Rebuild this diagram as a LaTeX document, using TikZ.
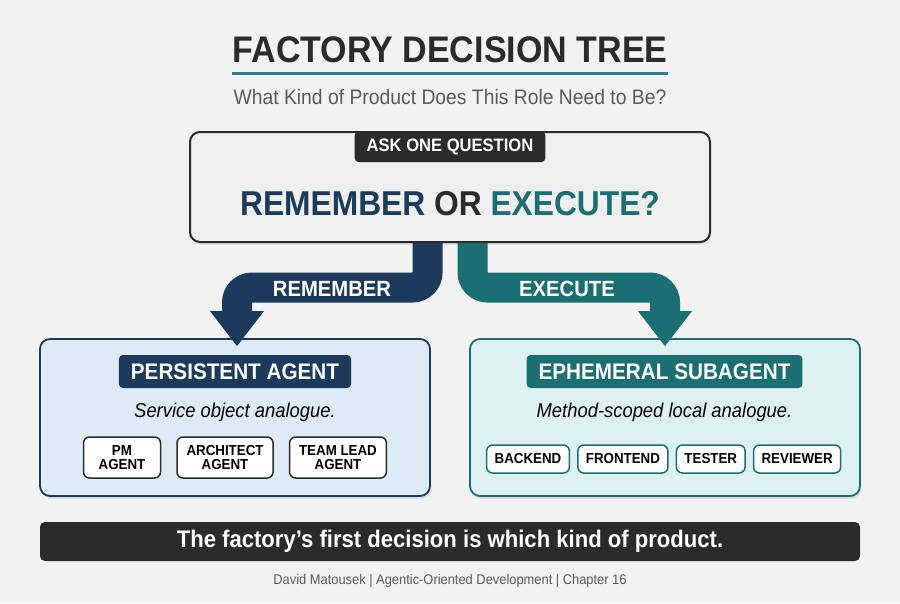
\documentclass[tikz,border=0pt]{standalone}
\usepackage{fontspec}
\setmainfont[FakeStretch=0.92]{Liberation Sans}
\usepackage{tikz}
\usetikzlibrary{positioning, arrows.meta, shadows}
\definecolor{pagebg}{HTML}{F2F2F2}
\definecolor{charcoal}{HTML}{2B2B2B}
\definecolor{mutedtext}{HTML}{5A5A5A}
\definecolor{remnavy}{HTML}{1B3A5C}
\definecolor{exeteal}{HTML}{1B6E72}
\definecolor{rulteal}{HTML}{2A8088}
\definecolor{qfill}{HTML}{EFEFEF}
\definecolor{remfill}{HTML}{DDEBF7}
\definecolor{exefill}{HTML}{DDF2F0}

\newcommand{\fsz}[1]{\fontsize{#1}{#1}\selectfont}

\begin{document}
\begin{tikzpicture}[
  x=1pt, y=-1pt,
  every node/.style={text=charcoal},
  softshadow/.style={
    drop shadow={shadow xshift=1pt, shadow yshift=-2.5pt, opacity=0.22},
  },
  questionbox/.style={
    draw=charcoal,
    line width=2pt,
    rounded corners=10pt,
    fill=qfill,
    minimum width=520pt,
    minimum height=110pt,
    softshadow,
  },
  tagbox/.style={
    rounded corners=4pt,
    text=white,
    font=\fsz{#1}\bfseries,
    inner xsep=12pt,
    inner ysep=0pt,
    minimum height=31pt,
  },
  kindbox/.style={
    line width=1.8pt,
    rounded corners=10pt,
    minimum width=390pt,
    minimum height=157pt,
    softshadow,
  },
  rolebox/.style={
    draw=#1,
    line width=1.5pt,
    fill=white,
    rounded corners=6pt,
    align=center,
    font=\fsz{14.5}\bfseries,
    text=black,
    inner xsep=8pt,
    inner ysep=0pt,
  },
  branch/.style={
    draw=#1,
    line width=30pt,
    rounded corners=15pt,
    -{Triangle[width=54pt, length=35pt, line width=0pt]},
  },
  branchlabel/.style={
    font=\fsz{22}\bfseries,
    text=white,
  },
]
  % page
  \fill[pagebg] (0,0) rectangle (900,603);

  % heading
  \node[font=\fsz{37}\bfseries, inner sep=0pt, anchor=base] (title) at (450,62) {FACTORY DECISION TREE};
  \draw[rulteal, line width=3pt] ([yshift=-11pt]title.base west) -- ([yshift=-11pt]title.base east);
  \node[font=\fsz{21}, text=mutedtext, anchor=base] (subtitle) at (450,104) {What Kind of Product Does This Role Need to Be?};

  % the question
  \node[questionbox] (question) at (450,187) {};
  \node[tagbox=18, fill=charcoal, anchor=north] (ask) at (question.north) {ASK ONE QUESTION};
  \node[font=\fsz{34.5}\bfseries, anchor=base] (remexe) at (450,215)
    {\textcolor{remnavy}{REMEMBER} OR \textcolor{exeteal}{EXECUTE?}};

  % the two kinds
  \node[kindbox, draw=remnavy, fill=remfill] (persistent) at (235,417.5) {};
  \node[kindbox, draw=exeteal, fill=exefill] (ephemeral) at (665,417.5) {};

  \node[tagbox=22.5, fill=remnavy, minimum height=33pt] (perstag) at (235,371.5) {PERSISTENT AGENT};
  \node[tagbox=22.5, fill=exeteal, minimum height=33pt] (ephtag) at (664.5,371.5) {EPHEMERAL SUBAGENT};

  \node[font=\fsz{20}\itshape, text=black] (persnote) at (235,412) {Service object analogue.};
  \node[font=\fsz{20}\itshape, text=black] (ephnote) at (664.5,412) {Method-scoped local analogue.};

  % roles
  \node[rolebox=charcoal, inner xsep=9.5pt, minimum width=77pt, minimum height=41pt] (pm) at (122,457.5) {PM\\AGENT};
  \node[rolebox=charcoal, inner xsep=9.5pt, minimum height=41pt, right=15pt of pm] (architect) {ARCHITECT\\AGENT};
  \node[rolebox=charcoal, inner xsep=9.5pt, minimum height=41pt, right=15pt of architect] (teamlead) {TEAM LEAD\\AGENT};

  \node[rolebox=exeteal, minimum height=28pt] (backend) at (528,459) {BACKEND};
  \node[rolebox=exeteal, minimum height=28pt, right=7pt of backend] (frontend) {FRONTEND};
  \node[rolebox=exeteal, minimum height=28pt, right=7pt of frontend] (tester) {TESTER};
  \node[rolebox=exeteal, minimum height=28pt, right=7pt of tester] (reviewer) {REVIEWER};

  % branches
  \coordinate (remturn) at (237,287.5);
  \coordinate (exeturn) at (665,287.5);
  \draw[branch=remnavy] ([xshift=-22.5pt]question.south) |- (remturn) -- ([yshift=-8pt]remturn |- persistent.north);
  \draw[branch=exeteal] ([xshift=22.5pt]question.south) |- (exeturn) -- ([yshift=-8pt]exeturn |- ephemeral.north);
  \node[branchlabel] (remlabel) at (332,289) {REMEMBER};
  \node[branchlabel] (exelabel) at (567,289) {EXECUTE};

  % footer
  \node[fill=charcoal, rounded corners=5pt, minimum width=820pt, minimum height=39pt, text=white, font=\fsz{24}\bfseries] (banner) at (450,541.5) {The factory’s first decision is which kind of product.};
  \node[font=\fsz{14}, text=mutedtext] (credit) at (450,581) {David Matousek | Agentic-Oriented Development | Chapter 16};
\end{tikzpicture}
\end{document}
